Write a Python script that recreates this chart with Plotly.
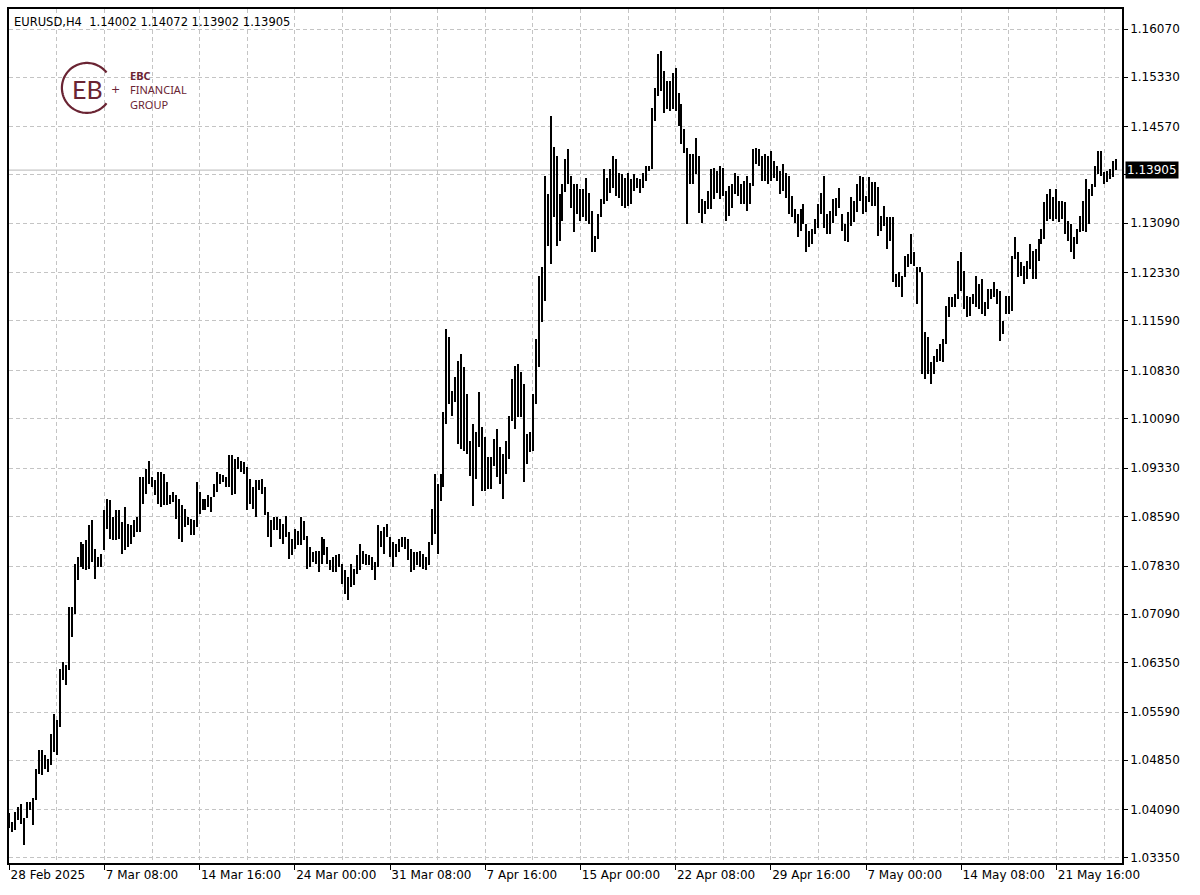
import numpy as np
import pandas as pd
import plotly.graph_objects as go

# ---------------- data ----------------
header_text = "EURUSD,H4  1.14002 1.14072 1.13902 1.13905"
last_price = 1.13905
start_time = "2025-02-28 00:00"

highs = [
    1.04033, 1.03905, 1.04058, 1.04135, 1.04186, 1.03956, 1.04212, 1.04212, 1.04263, 1.04723,
    1.05004, 1.05004, 1.04927, 1.04876, 1.05259, 1.05566, 1.05464, 1.06256, 1.06358, 1.06307,
    1.07201, 1.07201, 1.07865, 1.07967, 1.08197, 1.08172, 1.08223, 1.08453, 1.08530, 1.08095,
    1.07967, 1.08019, 1.08683, 1.08862, 1.08836, 1.08581, 1.08683, 1.08683, 1.08504, 1.08734,
    1.08478, 1.08453, 1.08530, 1.08581, 1.09194, 1.09194, 1.09322, 1.09449, 1.09194, 1.09143,
    1.09271, 1.09271, 1.09245, 1.09117, 1.08913, 1.08964, 1.08913, 1.08862, 1.08760, 1.08708,
    1.08581, 1.08555, 1.08530, 1.09117, 1.08964, 1.08862, 1.08862, 1.08913, 1.08887, 1.09092,
    1.09271, 1.09245, 1.09219, 1.09194, 1.09526, 1.09526, 1.09475, 1.09500, 1.09449, 1.09424,
    1.09347, 1.09168, 1.09041, 1.09143, 1.09143, 1.09168, 1.09041, 1.08657, 1.08530, 1.08581,
    1.08581, 1.08555, 1.08477, 1.08605, 1.08350, 1.08247, 1.08401, 1.08375, 1.08579, 1.08528,
    1.08298, 1.08120, 1.08043, 1.08068, 1.08068, 1.08273, 1.08247, 1.08120, 1.07915, 1.07966,
    1.07992, 1.08017, 1.07864, 1.07762, 1.07660, 1.07864, 1.07787, 1.07992, 1.08171, 1.08068,
    1.08017, 1.07992, 1.07966, 1.07890, 1.08452, 1.08375, 1.08426, 1.08477, 1.08273, 1.08196,
    1.08171, 1.08247, 1.08273, 1.08273, 1.08247, 1.08094, 1.08043, 1.08043, 1.08068, 1.08017,
    1.07966, 1.08196, 1.08707, 1.09244, 1.09090, 1.09244, 1.10189, 1.11467, 1.11339, 1.10521,
    1.10726, 1.10981, 1.11083, 1.10879, 1.10470, 1.09755, 1.10010, 1.09883, 1.10496, 1.09959,
    1.09806, 1.09499, 1.09499, 1.09780, 1.09934, 1.09653, 1.09550, 1.09755, 1.10138, 1.10700,
    1.10905, 1.10930, 1.10802, 1.10623, 1.09857, 1.09883, 1.10470, 1.11313, 1.12284, 1.12412,
    1.13817, 1.13536, 1.14737, 1.14252, 1.14124, 1.13536, 1.13689, 1.14073, 1.14225, 1.13816,
    1.13689, 1.13689, 1.13612, 1.13612, 1.13791, 1.13561, 1.13280, 1.12897, 1.13229, 1.13459,
    1.13919, 1.13791, 1.13919, 1.14123, 1.14072, 1.13868, 1.13842, 1.13791, 1.13868, 1.13765,
    1.13842, 1.13791, 1.13765, 1.13868, 1.13970, 1.13970, 1.14864, 1.15171, 1.15682, 1.15733,
    1.15426, 1.15273, 1.15273, 1.15401, 1.15477, 1.15094, 1.14915, 1.14532, 1.14251, 1.14149,
    1.14149, 1.14404, 1.14123, 1.13459, 1.13433, 1.13586, 1.13919, 1.13944, 1.13893, 1.13970,
    1.13944, 1.13586, 1.13663, 1.13689, 1.13868, 1.13816, 1.13689, 1.13740, 1.13816, 1.13714,
    1.14225, 1.14251, 1.14225, 1.14123, 1.14149, 1.14123, 1.14200, 1.14046, 1.13970, 1.13893,
    1.13995, 1.13868, 1.13816, 1.13510, 1.13305, 1.13229, 1.13305, 1.13382, 1.13076, 1.12973,
    1.12999, 1.13152, 1.13382, 1.13561, 1.13816, 1.13229, 1.13280, 1.13459, 1.13484, 1.13638,
    1.13229, 1.13076, 1.13255, 1.13485, 1.13434, 1.13690, 1.13817, 1.13792, 1.13511, 1.13792,
    1.13715, 1.13715, 1.13639, 1.13204, 1.13358, 1.13179, 1.13179, 1.13179, 1.12310, 1.12336,
    1.12284, 1.12591, 1.12617, 1.12923, 1.12642, 1.12412, 1.12412, 1.12336, 1.11416, 1.11339,
    1.10956, 1.11058, 1.11160, 1.11237, 1.11314, 1.11825, 1.11952, 1.11952, 1.12003, 1.12514,
    1.12642, 1.12361, 1.11978, 1.11952, 1.12003, 1.12284, 1.12157, 1.12233, 1.11876, 1.12080,
    1.12080, 1.12182, 1.12080, 1.12054, 1.11595, 1.11978, 1.11978, 1.12591, 1.12872, 1.12642,
    1.12489, 1.12438, 1.12514, 1.12770, 1.12668, 1.12693, 1.12847, 1.13000, 1.13409, 1.13536,
    1.13613, 1.13485, 1.13613, 1.13434, 1.13434, 1.13409, 1.13128, 1.13076, 1.12872, 1.13000,
    1.13204, 1.13434, 1.13766, 1.13613, 1.13690, 1.13971, 1.14201, 1.14201, 1.13869, 1.13894,
    1.13920, 1.14047, 1.14072,
]

lows = [
    1.03803, 1.03752, 1.03777, 1.03931, 1.03879, 1.03547, 1.03956, 1.04084, 1.03854, 1.04237,
    1.04646, 1.04620, 1.04723, 1.04672, 1.04774, 1.04978, 1.04927, 1.05361, 1.06077, 1.06000,
    1.06230, 1.06741, 1.07099, 1.07610, 1.07814, 1.07789, 1.07763, 1.07789, 1.07891, 1.07635,
    1.07814, 1.07814, 1.08070, 1.08402, 1.08249, 1.08223, 1.08223, 1.08249, 1.08019, 1.08070,
    1.08121, 1.08172, 1.08274, 1.08351, 1.08351, 1.08785, 1.08938, 1.09092, 1.09041, 1.08913,
    1.08785, 1.08734, 1.08760, 1.08760, 1.08785, 1.08811, 1.08555, 1.08249, 1.08197, 1.08427,
    1.08453, 1.08300, 1.08300, 1.08427, 1.08632, 1.08683, 1.08683, 1.08734, 1.08657, 1.08887,
    1.08964, 1.09092, 1.09117, 1.09041, 1.09041, 1.08913, 1.08938, 1.09322, 1.09271, 1.09245,
    1.08683, 1.08785, 1.08708, 1.08581, 1.08989, 1.08938, 1.08606, 1.08274, 1.08121, 1.08376,
    1.08376, 1.08249, 1.08171, 1.08273, 1.07941, 1.07992, 1.08094, 1.08145, 1.08145, 1.08222,
    1.07787, 1.07813, 1.07890, 1.07864, 1.07736, 1.07864, 1.07992, 1.07864, 1.07762, 1.07736,
    1.07736, 1.07813, 1.07557, 1.07404, 1.07302, 1.07506, 1.07532, 1.07711, 1.07762, 1.07864,
    1.07839, 1.07839, 1.07762, 1.07609, 1.07813, 1.08120, 1.08017, 1.08273, 1.07966, 1.07813,
    1.07966, 1.08043, 1.08120, 1.08094, 1.07915, 1.07736, 1.07762, 1.07839, 1.07813, 1.07787,
    1.07762, 1.07839, 1.08145, 1.08324, 1.08017, 1.08835, 1.09039, 1.10010, 1.10317, 1.10138,
    1.10342, 1.09704, 1.09627, 1.09601, 1.09550, 1.09218, 1.08758, 1.09167, 1.09653, 1.08988,
    1.08988, 1.09014, 1.09014, 1.09372, 1.09193, 1.09090, 1.08861, 1.09244, 1.09474, 1.10061,
    1.09934, 1.10112, 1.10112, 1.09116, 1.09397, 1.09576, 1.09601, 1.10317, 1.10879, 1.11569,
    1.11901, 1.12744, 1.12463, 1.13178, 1.12744, 1.12821, 1.13127, 1.13562, 1.13689, 1.13331,
    1.12948, 1.13229, 1.13127, 1.13178, 1.13127, 1.13076, 1.12641, 1.12641, 1.12846, 1.13178,
    1.13382, 1.13433, 1.13561, 1.13638, 1.13510, 1.13484, 1.13357, 1.13331, 1.13357, 1.13382,
    1.13586, 1.13638, 1.13561, 1.13638, 1.13740, 1.13893, 1.13919, 1.14660, 1.15043, 1.15119,
    1.14787, 1.14838, 1.14813, 1.14838, 1.14813, 1.14583, 1.14302, 1.14174, 1.13076, 1.13689,
    1.13689, 1.13842, 1.13254, 1.13101, 1.13229, 1.13305, 1.13305, 1.13459, 1.13561, 1.13459,
    1.13510, 1.13127, 1.13203, 1.13331, 1.13535, 1.13510, 1.13382, 1.13382, 1.13280, 1.13382,
    1.13663, 1.13995, 1.13970, 1.13740, 1.13740, 1.13689, 1.13740, 1.13791, 1.13740, 1.13535,
    1.13586, 1.13484, 1.13229, 1.13178, 1.13101, 1.12871, 1.12973, 1.13076, 1.12641, 1.12718,
    1.12769, 1.12922, 1.13024, 1.13229, 1.13024, 1.12922, 1.12922, 1.13101, 1.13203, 1.13331,
    1.12973, 1.12820, 1.12795, 1.13051, 1.13102, 1.13255, 1.13434, 1.13230, 1.13255, 1.13409,
    1.13358, 1.13358, 1.12898, 1.12974, 1.13051, 1.12693, 1.12821, 1.12182, 1.12106, 1.12106,
    1.11952, 1.12259, 1.12412, 1.12463, 1.12438, 1.11850, 1.12336, 1.10777, 1.10700, 1.10777,
    1.10624, 1.10777, 1.10956, 1.10981, 1.10956, 1.11237, 1.11646, 1.11799, 1.11799, 1.11927,
    1.12054, 1.11773, 1.11646, 1.11671, 1.11850, 1.11799, 1.11773, 1.11697, 1.11671, 1.11773,
    1.11927, 1.11952, 1.11850, 1.11288, 1.11390, 1.11697, 1.11697, 1.11748, 1.12540, 1.12259,
    1.12284, 1.12157, 1.12233, 1.12387, 1.12233, 1.12233, 1.12514, 1.12770, 1.12847, 1.13128,
    1.13153, 1.13128, 1.13153, 1.13102, 1.13153, 1.12923, 1.12821, 1.12642, 1.12540, 1.12770,
    1.12949, 1.12974, 1.12949, 1.13076, 1.13511, 1.13639, 1.13843, 1.13817, 1.13690, 1.13715,
    1.13766, 1.13792, 1.13902,
]

x_labels = ["28 Feb 2025", "7 Mar 08:00", "14 Mar 16:00", "24 Mar 00:00", "31 Mar 08:00",
            "7 Apr 16:00", "15 Apr 00:00", "22 Apr 08:00", "29 Apr 16:00", "7 May 00:00",
            "14 May 08:00", "21 May 16:00"]

y_ticks = [1.16070, 1.15330, 1.14570, 1.13830, 1.13090, 1.12330, 1.11590, 1.10830, 1.10090,
           1.09330, 1.08590, 1.07830, 1.07090, 1.06350, 1.05590, 1.04850, 1.04090, 1.03350]

assert len(highs) == len(lows)
n = len(highs)

# ---------------- bar times (H4, weekdays only) ----------------
all_times = pd.date_range(start_time, periods=n * 2, freq="4h")
times = all_times[all_times.weekday < 5][:n]


def time_label(i, t):
    if i == 0:
        return f"{t.day} {t:%b %Y}"
    return f"{t.day} {t:%b %H:%M}"


bar_labels = [time_label(i, t) for i, t in enumerate(times)]
idx = np.arange(n)
tickvals = [i for i, lab in enumerate(bar_labels) if lab in x_labels]
ticktext = [bar_labels[i] for i in tickvals]

# the price box covers the label nearest to the current price
y_ticktext = ["" if abs(v - last_price) < 0.0015 else f"{v:.5f}" for v in y_ticks]

H = np.array(highs)
L = np.array(lows)

FONT = "DejaVu Sans"
GRID = "#c4c4c4"
MAROON = "#6a2433"

W, HT = 1200, 895
ML, MR, MT, MB = 7, 78, 8, 32
PW, PH = W - ML - MR, HT - MT - MB

fig = go.Figure()
fig.add_trace(go.Bar(
    x=idx, y=H - L, base=L, width=0.46,
    marker=dict(color="black", line=dict(width=0)),
    customdata=np.stack([H, L], axis=1),
    hovertext=[t.strftime("%Y.%m.%d %H:%M") for t in times],
    hovertemplate="%{hovertext}<br>H %{customdata[0]:.5f}<br>L %{customdata[1]:.5f}<extra></extra>",
))

fig.update_layout(
    width=W, height=HT,
    margin=dict(l=ML, r=MR, t=MT, b=MB, pad=0),
    paper_bgcolor="white", plot_bgcolor="white",
    showlegend=False, bargap=0,
    font=dict(family=FONT, size=12, color="black"),
    xaxis=dict(
        range=[-0.1, n + 1.0],
        tickmode="array", tickvals=tickvals, ticktext=ticktext,
        ticks="outside", ticklen=5, tickcolor="black", tickwidth=1,
        ticklabelposition="outside right",
        tickfont=dict(family=FONT, size=12, color="black"),
        showline=True, linecolor="black", linewidth=1.5, mirror=True,
        showgrid=True, gridcolor=GRID, griddash="4px,3px", gridwidth=1,
        minor=dict(tickmode="linear", tick0=0, dtick=16, showgrid=True,
                   gridcolor=GRID, griddash="4px,3px", gridwidth=1, ticks=""),
        zeroline=False, fixedrange=True,
    ),
    yaxis=dict(
        side="right",
        range=[1.03273, 1.16377],
        tickmode="array", tickvals=y_ticks, ticktext=y_ticktext,
        ticks="outside", ticklen=4, tickcolor="black",
        tickfont=dict(family=FONT, size=12, color="black"),
        showline=True, linecolor="black", linewidth=1.5, mirror=True,
        showgrid=True, gridcolor=GRID, griddash="4px,3px", gridwidth=1,
        zeroline=False, fixedrange=True,
    ),
)

# bid line
fig.add_shape(type="line", xref="paper", x0=0, x1=1, yref="y", y0=last_price, y1=last_price,
              line=dict(color="#b8b8b8", width=1), layer="below")

# price label box
fig.add_annotation(xref="paper", x=1, xanchor="left", xshift=3, yref="y", y=last_price,
                   yanchor="middle", text=f"{last_price:.5f}", showarrow=False,
                   bgcolor="black", font=dict(family=FONT, size=12, color="white"),
                   borderpad=1)

# header
fig.add_annotation(xref="paper", x=0, xanchor="left", xshift=3, yref="paper", y=1,
                   yanchor="top", yshift=-4, text=header_text, showarrow=False,
                   font=dict(family=FONT, size=11.5, color="black"))


# ---------------- logo (decoration, placed in paper space) ----------------
def px_to_paper(px, py):
    return (px - ML) / PW, (HT - MB - py) / PH


lcx, lcy, lr = 85, 87, 25
ang = np.deg2rad(np.linspace(38, 322, 80))
pts = [px_to_paper(lcx + lr * np.cos(a), lcy - lr * np.sin(a)) for a in ang]
arc = "M " + " L ".join(f"{x:.5f},{y:.5f}" for x, y in pts)
fig.add_shape(type="path", xref="paper", yref="paper", path=arc,
              line=dict(color=MAROON, width=2.2))

gx, gy = px_to_paper(86, 88)
fig.add_annotation(xref="paper", yref="paper", x=gx, y=gy, xanchor="center", yanchor="middle",
                   text="EB", showarrow=False, font=dict(family="Lato", size=25, color=MAROON))
plx, ply = px_to_paper(114, 89)
fig.add_annotation(xref="paper", yref="paper", x=plx, y=ply, xanchor="center", yanchor="middle",
                   text="+", showarrow=False, font=dict(family=FONT, size=11, color=MAROON))
tx, ty = px_to_paper(126, 89)
fig.add_annotation(xref="paper", yref="paper", x=tx, y=ty, xanchor="left", yanchor="middle",
                   align="left", text="<b>EBC</b><br>FINANCIAL<br>GROUP", showarrow=False,
                   font=dict(family="Noto Sans", size=11, color=MAROON))

fig.write_html("out.html", config={"displayModeBar": False})

# remove the default page margin so the figure sits at the window's top-left corner
with open("out.html", "r", encoding="utf-8") as f:
    html = f.read()
html = html.replace("<body>", '<body style="margin:0;padding:0;">', 1)
with open("out.html", "w", encoding="utf-8") as f:
    f.write(html)
